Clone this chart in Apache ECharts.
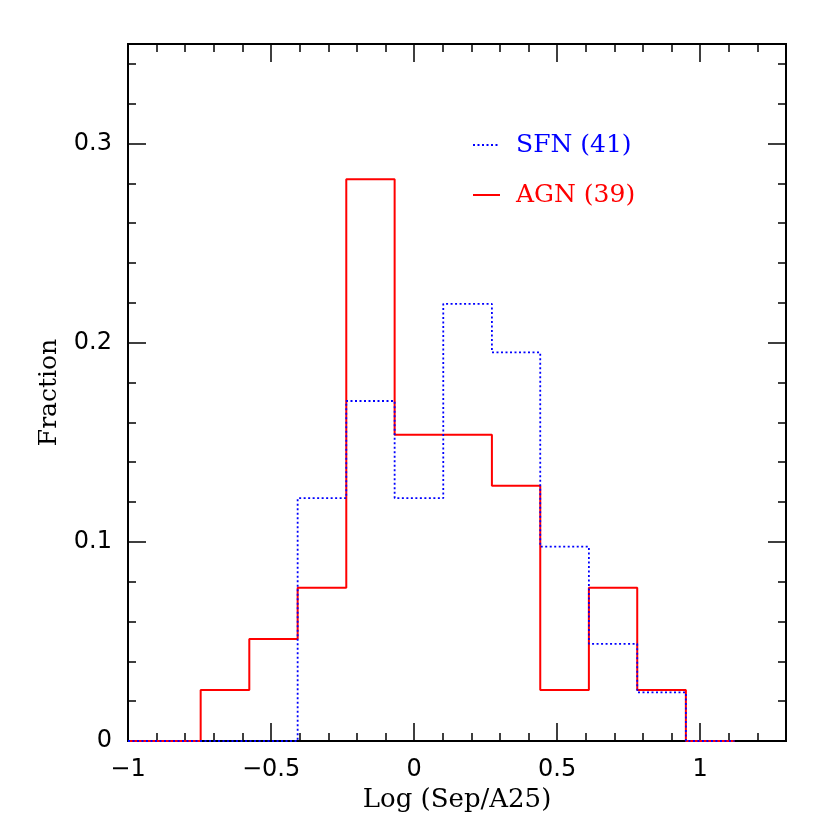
<!DOCTYPE html>
<html lang="en">
<head>
    <meta charset="UTF-8">
    <title>Fraction vs Log (Sep/A25)</title>
    <script src="https://cdn.jsdelivr.net/npm/echarts@6/dist/echarts.min.js"></script>
</head>
<body style="margin:0;background:#fff;">
<div id="hist" style="width: 830px;height: 830px;"></div>
<script>
    // bin edges (Log Sep/A25) and counts per bin
    var edges = [-0.746, -0.576, -0.407, -0.237, -0.068, 0.102, 0.272, 0.441, 0.611, 0.780, 0.950, 1.120];
    var agnCounts = [1, 2, 3, 11, 6, 6, 5, 1, 3, 1, 0];
    var sfnCounts = [0, 0, 5, 7, 5, 9, 8, 4, 2, 1, 0];
    var agnTotal = 39;
    var sfnTotal = 41;
    var xTicks = [-1, -0.5, 0, 0.5, 1];
    var yTicks = [0, 0.1, 0.2, 0.3];

    var xMin = -1, xMax = 1.3, yMin = 0, yMax = 0.35;

    // step line points: start at axis min, one point per bin, back to zero at the end
    function stepData(counts, total) {
        var pts = [[xMin, 0]];
        for (var i = 0; i < counts.length; i++) {
            pts.push([edges[i], counts[i] / total]);
        }
        pts.push([edges[edges.length - 1], 0]);
        return pts;
    }

    function minus(v) {
        return v < 0 ? '\u2212' + String(-v) : String(v);
    }

    var myChart = echarts.init(document.getElementById('hist'));

    var lineBlack = {show: true, onZero: false, lineStyle: {color: '#000', width: 2}};

    function xAxisDef(pos, major, labels) {
        return {
            type: 'value', position: pos, min: xMin, max: xMax,
            interval: major ? 0.5 : 0.1,
            axisLine: lineBlack,
            axisTick: {show: true, inside: true, length: major ? 18 : 8, lineStyle: {color: '#000', width: 1.5}},
            axisLabel: labels ? {
                show: true, margin: 17, showMaxLabel: false,
                fontFamily: 'DejaVu Sans', fontSize: 24, color: '#000',
                formatter: function (v) { return xTicks.indexOf(v) >= 0 ? minus(v) : ''; }
            } : {show: false},
            splitLine: {show: false},
            name: labels ? 'Log (Sep/A25)' : '',
            nameLocation: 'middle', nameGap: 42,
            nameTextStyle: {fontFamily: 'DejaVu Serif', fontSize: 26, color: '#000'}
        };
    }

    function yAxisDef(pos, major, labels) {
        return {
            type: 'value', position: pos, min: yMin, max: yMax,
            interval: major ? 0.1 : 0.02,
            axisLine: lineBlack,
            axisTick: {show: true, inside: true, length: major ? 18 : 8, lineStyle: {color: '#000', width: 1.5}},
            axisLabel: labels ? {
                show: true, margin: 16, showMaxLabel: false,
                fontFamily: 'DejaVu Sans', fontSize: 24, color: '#000',
                formatter: function (v) { return yTicks.indexOf(v) >= 0 ? String(v) : ''; }
            } : {show: false},
            splitLine: {show: false},
            name: labels ? 'Fraction' : '',
            nameLocation: 'middle', nameGap: 66,
            nameTextStyle: {fontFamily: 'DejaVu Serif', fontSize: 25, color: '#000'}
        };
    }

    var option = {
        backgroundColor: '#fff',
        animation: false,
        grid: {left: 128, right: 44, top: 44, bottom: 89, containLabel: false},
        legend: {
            orient: 'vertical',
            left: 467, top: 126,
            itemWidth: 27, itemHeight: 14, itemGap: 22,
            itemStyle: {opacity: 0},
            textStyle: {fontFamily: 'DejaVu Serif', fontSize: 25, lineHeight: 28, padding: [0, 0, 0, 11]},
            data: [
                {name: 'SFN (41)', textStyle: {color: '#0000ff'}},
                {name: 'AGN (39)', textStyle: {color: '#ff0000'}}
            ]
        },
        xAxis: [
            xAxisDef('bottom', true, true),
            xAxisDef('bottom', false, false),
            xAxisDef('top', true, false),
            xAxisDef('top', false, false)
        ],
        yAxis: [
            yAxisDef('left', true, true),
            yAxisDef('left', false, false),
            yAxisDef('right', true, false),
            yAxisDef('right', false, false)
        ],
        series: [{
            name: 'AGN (39)',
            type: 'line',
            step: 'end',
            symbol: 'none',
            color: '#ff0000',
            lineStyle: {color: '#ff0000', width: 2},
            data: stepData(agnCounts, agnTotal)
        }, {
            name: 'SFN (41)',
            type: 'line',
            step: 'end',
            symbol: 'none',
            color: '#0000ff',
            lineStyle: {color: '#0000ff', width: 1.8, type: [2, 2.5]},
            data: stepData(sfnCounts, sfnTotal)
        }]
    };
    myChart.setOption(option);
</script>
</body>
</html>
